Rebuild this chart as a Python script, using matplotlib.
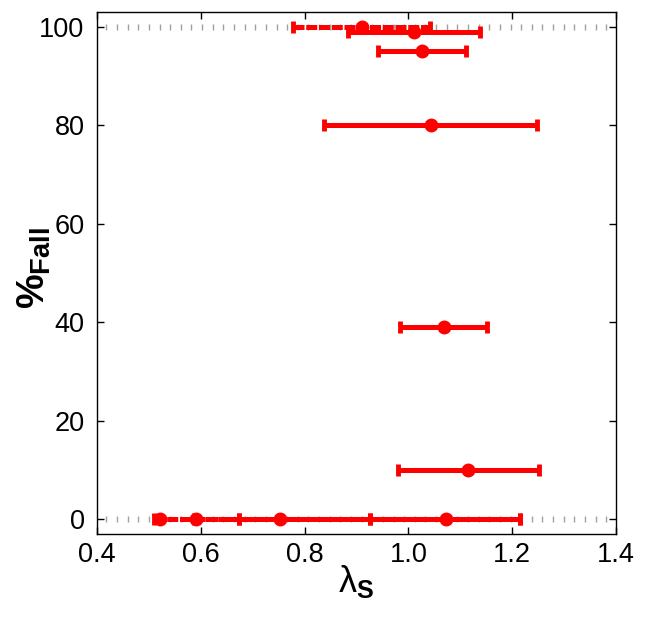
import numpy as np
import matplotlib
matplotlib.use("Agg")
import matplotlib.pyplot as plt

plt.rcParams['font.family'] = ['Liberation Sans', 'DejaVu Sans']
plt.rcParams['mathtext.fontset'] = 'custom'
plt.rcParams['mathtext.rm'] = 'Liberation Sans'
plt.rcParams['mathtext.it'] = 'Liberation Sans'
plt.rcParams['mathtext.bf'] = 'Liberation Sans:bold'

# Solid series (percent fall vs lambda_S)
solid_y = [99, 95, 80, 39, 10]
solid_x = [1.010, 1.026, 1.044, 1.068, 1.115]
solid_lo = [0.884, 0.942, 0.838, 0.983, 0.981]
solid_hi = [1.138, 1.112, 1.247, 1.152, 1.251]

# Dashed series at the limits (0 and 100)
dash_y = [100, 0, 0, 0, 0]
dash_x = [0.910, 0.521, 0.591, 0.753, 1.072]
dash_lo = [0.777, 0.509, 0.587, 0.674, 0.926]
dash_hi = [1.042, 0.674, 0.926, 1.215, 1.215]

ref_levels = [0, 100]
xticks = [0.4, 0.6, 0.8, 1.0, 1.2, 1.4]
yticks = [0, 20, 40, 60, 80, 100]

fig = plt.figure(figsize=(6.49, 6.22), dpi=100)
ax = fig.add_axes([0.1495, 0.1415, 0.7995, 0.8392])

# gray dotted reference lines
for lv in ref_levels:
    xs = np.arange(0.418, 1.40, 0.0205)
    ax.plot(xs, [lv] * len(xs), linestyle='none', marker='|', color='#a0a0a0',
            markersize=5, markeredgewidth=1.0, zorder=1)

red = '#ff0000'
for x, y, lo, hi in zip(dash_x, dash_y, dash_lo, dash_hi):
    eb = ax.errorbar([x], [y], xerr=[[x - lo], [hi - x]], fmt='o', color=red,
                     markersize=9, elinewidth=3.6, capsize=4.5, capthick=3.5, zorder=3)
    for lc in eb[2]:
        lc.set_linestyle((0, (2.2, 0.35)))

for x, y, lo, hi in zip(solid_x, solid_y, solid_lo, solid_hi):
    ax.errorbar([x], [y], xerr=[[x - lo], [hi - x]], fmt='o', color=red,
                markersize=9, elinewidth=3.6, capsize=4.5, capthick=3.5, zorder=4)

ax.set_xlim(0.4, 1.4)
ax.set_ylim(-3, 103)
ax.set_xticks(xticks)
ax.set_xticklabels(['%.1f' % t for t in xticks])
ax.set_yticks(yticks)
ax.tick_params(direction='in', top=True, right=True, labelsize=19.5, length=5, width=1)
ax.tick_params(axis='x', pad=6)
ax.tick_params(axis='y', pad=9)
for sp in ax.spines.values():
    sp.set_linewidth(1.0)

ax.set_xlabel('λ$_{\\mathbf{S}}$', fontsize=26, labelpad=-4)
ax.set_ylabel('%$_{\\mathbf{Fall}}$', fontsize=28, fontweight='bold')
ax.yaxis.set_label_coords(-0.085, 0.51)

fig.savefig('out.png', dpi=100)
